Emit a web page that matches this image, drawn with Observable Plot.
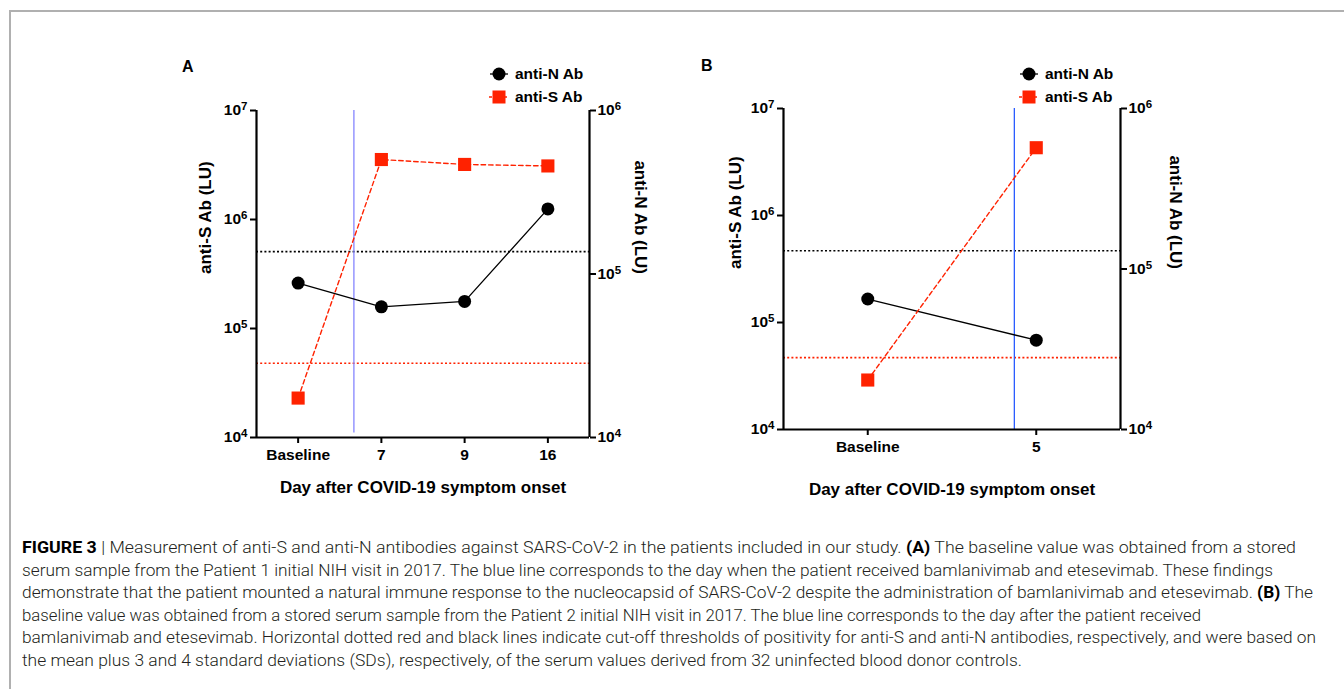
<!DOCTYPE html>
<html><head><meta charset="utf-8">
<script src="https://cdn.jsdelivr.net/npm/d3@7"></script>
<script src="https://cdn.jsdelivr.net/npm/@observablehq/plot@0.6"></script>
<style>
body{margin:0;background:#fff;width:1344px;height:689px;overflow:hidden;position:relative;font-family:"Liberation Sans",Arial,sans-serif;color:#000}
#frame{position:absolute;left:9px;top:10px;width:1400px;height:800px;border-top:2px solid #b0b0b0;border-left:2px solid #b0b0b0}
.abs{position:absolute}
.letter{font-weight:bold;font-size:16px}
.leg{font-weight:bold;font-size:15.5px;line-height:23px}
.leg div{display:flex;align-items:center;height:23px}
.leg svg{margin-right:6px}
#caption{position:absolute;left:22px;top:537px;font-family:Roboto,"Liberation Sans",sans-serif;font-weight:300;font-size:16.5px;color:#231f20}
#caption div{white-space:nowrap;height:22.5px;line-height:22.5px;transform-origin:0 50%}
b{font-weight:bold;color:#000}
</style></head><body>
<div id="frame"></div>
<div id="panelA" class="abs" style="left:150px;top:40px"></div>
<div id="panelB" class="abs" style="left:680px;top:40px"></div>
<div class="abs letter" style="left:182px;top:58px">A</div>
<div class="abs letter" style="left:701px;top:57px">B</div>
<div id="legA" class="abs leg" style="left:489px;top:62px"></div>
<div id="legB" class="abs leg" style="left:1019px;top:62px"></div>
<div id="caption"></div>
<script>
// ---- data ----
const daysA = ["Baseline", "7", "9", "16"];
const antiS_A = [2.3e4, 3.55e6, 3.2e6, 3.1e6];
const antiN_A = [8.8e4, 6.3e4, 6.8e4, 2.5e5];
const daysB = ["Baseline", "5"];
const antiS_B = [2.9e4, 4.3e6];
const antiN_B = [6.5e4, 3.6e4];
const cutoffS = [4.8e4, 4.7e4];      // anti-S positivity threshold (A, B)
const cutoffN = [1.37e5, 1.3e5];     // anti-N positivity threshold (A, B)
const treatment = [0.67, 0.87];      // blue line position (category index units)
const leftTicks = [1e4, 1e5, 1e6, 1e7];
const rightTicks = [1e4, 1e5, 1e6];
const seriesNames = ["anti-N Ab", "anti-S Ab"];
const yLabelLeft = "anti-S Ab (LU)";
const yLabelRight = "anti-N Ab (LU)";
const xLabel = "Day after COVID-19 symptom onset";

const RED = "#ff2200";
// map right-axis (1e4..1e6) into left-axis units (1e4..1e7)
const toLeft = v => Math.pow(10, 4 + 1.5 * (Math.log10(v) - 4));
const fromLeft = v => Math.pow(10, 4 + (Math.log10(v) - 4) / 1.5);
const sup = v => "10^" + Math.round(Math.log10(v));

function panel(o) {
  const n = o.days.length, idx = d3.range(n);
  const sData = idx.map(i => ({x: i, v: o.antiS[i]}));
  const nData = idx.map(i => ({x: i, v: toLeft(o.antiN[i])}));
  const svg = Plot.plot({
    width: o.width, height: o.height,
    marginLeft: o.ml, marginRight: o.mr, marginTop: o.mt, marginBottom: o.mb,
    style: {fontFamily: "Liberation Sans, Arial, sans-serif", fontWeight: "bold", fontSize: "15.5px", color: "#000", background: "transparent", overflow: "visible"},
    x: {type: "linear", domain: [-0.5, n - 0.5]},
    y: {type: "log", domain: [1e4, 1e7]},
    marks: [
      Plot.ruleY([o.cutN], {y: d => toLeft(d), stroke: "#000", strokeWidth: 1.6, strokeDasharray: "2,2.2"}),
      Plot.ruleY([o.cutS], {stroke: RED, strokeWidth: 1.6, strokeDasharray: "2,2.2"}),
      Plot.ruleX([o.treat], {y1: o.blueY1, y2: 1e7, stroke: o.blue, strokeWidth: 1.3}),
      Plot.line(nData, {x: "x", y: "v", stroke: "#000", strokeWidth: 1.3}),
      Plot.line(sData, {x: "x", y: "v", stroke: RED, strokeWidth: 1.4, strokeDasharray: "4.5,3"}),
      Plot.dot(nData, {x: "x", y: "v", r: 6.5, fill: "#000", stroke: "none"}),
      Plot.dot(sData, {x: "x", y: "v", r: 7.4, symbol: "square", fill: RED, stroke: "none"}),
      Plot.ruleX([-0.5], {stroke: "#000", strokeWidth: 2.2}),
      Plot.ruleX([n - 0.5], {stroke: "#000", strokeWidth: 2.2}),
      Plot.ruleY([1e4], {stroke: "#000", strokeWidth: 2.2}),
      Plot.axisY({anchor: "left", ticks: leftTicks, tickFormat: sup, tickSize: 6, strokeWidth: 2, tickPadding: 3, label: null}),
      Plot.axisY({anchor: "right", ticks: rightTicks.map(toLeft), tickFormat: d => sup(fromLeft(d)), tickSize: 6, strokeWidth: 2, tickPadding: 2, label: null}),
      Plot.axisX({ticks: idx, tickFormat: i => o.days[i], tickSize: 6, strokeWidth: 2, tickPadding: 5, label: null}),
      Plot.text([yLabelLeft], {frameAnchor: "left", dx: o.lx, rotate: -90, fontSize: 17, fontWeight: "bold"}),
      Plot.text([yLabelRight], {frameAnchor: "right", dx: o.rx, rotate: 90, fontSize: 17, fontWeight: "bold"}),
      Plot.text([xLabel], {frameAnchor: "bottom", dy: o.xy, fontSize: 17, fontWeight: "bold"})
    ]
  });
  // superscript exponents
  svg.querySelectorAll("text").forEach(t => {
    const m = /^10\^(\d+)$/.exec(t.textContent);
    if (m) {
      t.textContent = "10";
      const ts = document.createElementNS("http://www.w3.org/2000/svg", "tspan");
      ts.setAttribute("dy", "-0.45em");
      ts.setAttribute("font-size", "11.5");
      ts.textContent = m[1];
      t.appendChild(ts);
    }
  });
  return svg;
}

document.getElementById("panelA").appendChild(panel({
  days: daysA, antiS: antiS_A, antiN: antiN_A, cutS: cutoffS[0], cutN: cutoffN[0], treat: treatment[0],
  blue: "#8585ff", blueY1: 1.1e4, width: 540, height: 480, ml: 106, mr: 101, mt: 70, mb: 83,
  lx: -51, rx: 51, xy: 55
}));
document.getElementById("panelB").appendChild(panel({
  days: daysB, antiS: antiS_B, antiN: antiN_B, cutS: cutoffS[1], cutN: cutoffN[1], treat: treatment[1],
  blue: "#2a5cff", blueY1: 1e4, width: 560, height: 480, ml: 103, mr: 120, mt: 68, mb: 91,
  lx: -48, rx: 55, xy: 65
}));

function legend(el) {
  el.innerHTML =
    `<div><svg width="20" height="16"><line x1="1" x2="19" y1="8" y2="8" stroke="#000" stroke-width="1.3"/><circle cx="10" cy="8" r="6.5" fill="#000"/></svg>${seriesNames[0]}</div>` +
    `<div><svg width="20" height="16"><line x1="0" x2="20" y1="8" y2="8" stroke="${RED}" stroke-width="1.4" stroke-dasharray="3,2"/><rect x="3.5" y="1.5" width="13" height="13" fill="${RED}"/></svg>${seriesNames[1]}</div>`;
}
legend(document.getElementById("legA"));
legend(document.getElementById("legB"));

const captionLines = [
  "<b>FIGURE 3</b> | Measurement of anti-S and anti-N antibodies against SARS-CoV-2 in the patients included in our study. <b>(A)</b> The baseline value was obtained from a stored",
  "serum sample from the Patient 1 initial NIH visit in 2017. The blue line corresponds to the day when the patient received bamlanivimab and etesevimab. These findings",
  "demonstrate that the patient mounted a natural immune response to the nucleocapsid of SARS-CoV-2 despite the administration of bamlanivimab and etesevimab. <b>(B)</b> The",
  "baseline value was obtained from a stored serum sample from the Patient 2 initial NIH visit in 2017. The blue line corresponds to the day after the patient received",
  "bamlanivimab and etesevimab. Horizontal dotted red and black lines indicate cut-off thresholds of positivity for anti-S and anti-N antibodies, respectively, and were based on",
  "the mean plus 3 and 4 standard deviations (SDs), respectively, of the serum values derived from 32 uninfected blood donor controls."
];
const captionEnds = [1296, 1273, 1313, 1201, 1316, 1022];
const cap = document.getElementById("caption");
captionLines.forEach((l, i) => {
  const d = document.createElement("div");
  const s = document.createElement("span");
  s.innerHTML = l;
  d.appendChild(s);
  cap.appendChild(d);
  const w = s.getBoundingClientRect().width;
  const target = captionEnds[i] - 22;
  d.style.transform = `scaleX(${target / w})`;
});
</script>
</body></html>
